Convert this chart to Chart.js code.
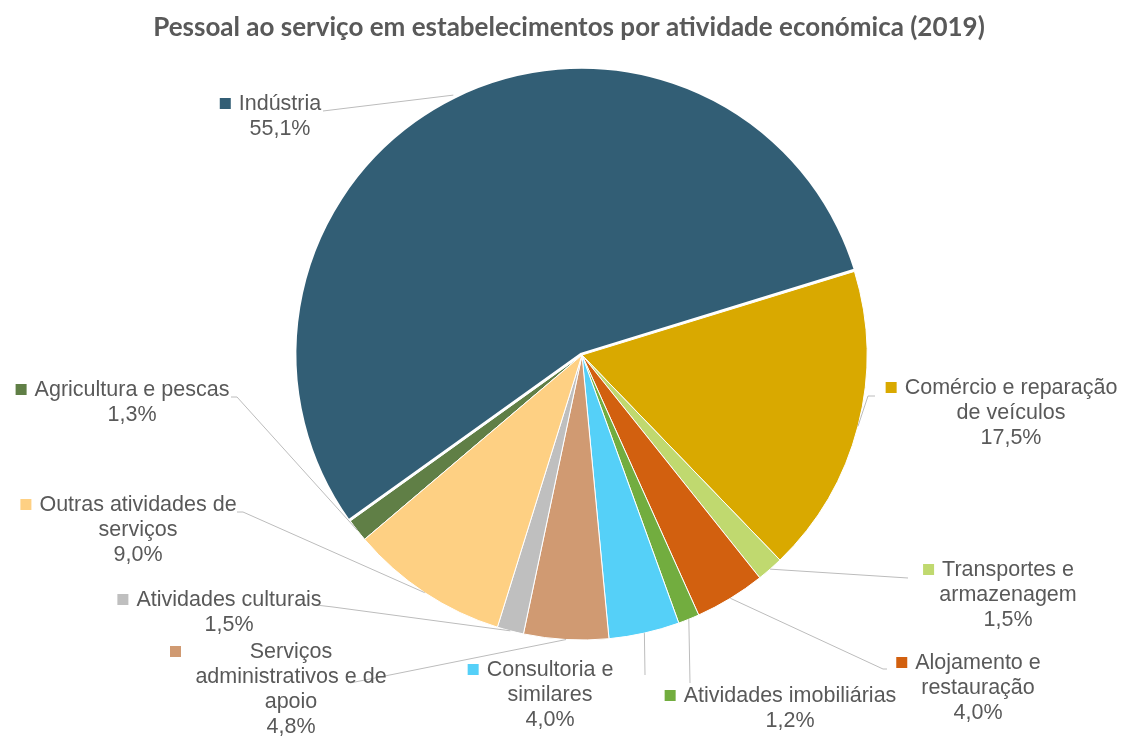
<!DOCTYPE html>
<html lang="pt">
<head>
<meta charset="utf-8">
<title>Pessoal ao serviço em estabelecimentos por atividade económica (2019)</title>
<script src="https://cdn.jsdelivr.net/npm/chart.js@4/dist/chart.umd.min.js"></script>
<style>
  html, body { margin: 0; padding: 0; background: #fff; }
  #wrap { width: 1122px; height: 736px; position: relative; }
</style>
</head>
<body>
<div id="wrap"><canvas id="chart" width="1122" height="736"></canvas></div>
<script>
// Pie of staff by economic activity, 2019. Slices go clockwise from Agricultura.

const TITLE = "Pessoal ao serviço em estabelecimentos por atividade económica (2019)";

// category names, already split into the lines shown on the labels
const categories = [
  ["Agricultura e pescas"],
  ["Indústria"],
  ["Comércio e reparação", "de veículos"],
  ["Transportes e", "armazenagem"],
  ["Alojamento e", "restauração"],
  ["Atividades imobiliárias"],
  ["Consultoria e", "similares"],
  ["Serviços", "administrativos e de", "apoio"],
  ["Atividades culturais"],
  ["Outras atividades de", "serviços"],
];

// share of staff, %
const shares = [1.3, 55.1, 17.5, 1.5, 4.0, 1.2, 4.0, 4.8, 1.5, 9.0];

const colors = [
  "#607f46", "#325e75", "#d9a900", "#c0d96f", "#d2600f",
  "#72ad3f", "#55d0f8", "#d09a72", "#bfbfbf", "#fed083",
];

// only Indústria is pulled out a little, with a heavier white edge
const offsets = [0, 5, 0, 0, 0, 0, 0, 0, 0, 0];
const borders = [1, 2.5, 1, 1, 1, 1, 1, 1, 1, 1];

// where each label sits (centre x, first line y), optional key x, and the
// leader line points after it leaves the slice
const labelLayout = [
  { x: 132, y: 390, lead: [[237, 397], [231, 397]] },
  { x: 280, y: 104, lead: [[323, 111]] },
  { x: 1011, y: 388, lead: [[868, 396], [875, 396]] },
  { x: 1008, y: 570, lead: [[908, 578]] },
  { x: 978, y: 663, lead: [[883, 669], [887, 669]] },
  { x: 790, y: 696, lead: [[690, 683]] },
  { x: 550, y: 670, lead: [[645, 675]] },
  { x: 291, y: 652, key: 170, lead: [[350, 683]] },
  { x: 229, y: 600, lead: [[333, 607], [316, 605]] },
  { x: 138, y: 505, lead: [[243, 512], [237, 512]] },
];

const TEXT = "#595959";
const LINE = "#bcbcbc";
const LABEL_FONT = '21.5px "Liberation Sans", Arial, sans-serif';
const LINE_H = 25;

const fmtPct = (v) => v.toFixed(1).replace(".", ",") + "%";

const pieLabels = {
  id: "pieLabels",
  afterDatasetsDraw(chart) {
    const ctx = chart.ctx;
    const arcs = chart.getDatasetMeta(0).data;
    ctx.save();

    // leader lines first, so text is drawn over them
    ctx.strokeStyle = LINE;
    ctx.lineWidth = 1;
    arcs.forEach((arc, i) => {
      const p = arc.getProps(["x", "y", "startAngle", "endAngle", "outerRadius"], true);
      const mid = (p.startAngle + p.endAngle) / 2;
      const r = p.outerRadius + offsets[i];
      ctx.beginPath();
      ctx.moveTo(p.x + Math.cos(mid) * r, p.y + Math.sin(mid) * r);
      for (const [lx, ly] of labelLayout[i].lead) ctx.lineTo(lx, ly);
      ctx.stroke();
    });

    ctx.font = LABEL_FONT;
    ctx.textAlign = "center";
    ctx.textBaseline = "middle";
    arcs.forEach((arc, i) => {
      const L = labelLayout[i];
      const lines = categories[i].concat(fmtPct(shares[i]));
      lines.forEach((t, k) => {
        ctx.fillStyle = TEXT;
        ctx.fillText(t, L.x, L.y + k * LINE_H);
      });
      const w = ctx.measureText(lines[0]).width;
      const kx = L.key != null ? L.key : L.x - w / 2 - 8 - 11;
      ctx.fillStyle = colors[i];
      ctx.fillRect(kx, L.y - 6, 11, 11);
    });

    // title
    ctx.font = 'bold 26px Lato, "DejaVu Sans", sans-serif';
    ctx.fillStyle = TEXT;
    ctx.fillText(TITLE, 569, 28);
    ctx.restore();
  },
};

new Chart(document.getElementById("chart"), {
  type: "pie",
  data: {
    labels: categories,
    datasets: [{
      data: shares,
      backgroundColor: colors,
      borderColor: "#ffffff",
      borderWidth: borders,
      offset: offsets,
      radius: 285,
    }],
  },
  options: {
    responsive: false,
    animation: false,
    rotation: 229.7,
    layout: { padding: { left: 62, right: 20, top: 10, bottom: 36 } },
    plugins: {
      legend: { display: false },
      title: { display: false },
      tooltip: { enabled: false },
    },
  },
  plugins: [pieLabels],
});
</script>
</body>
</html>
